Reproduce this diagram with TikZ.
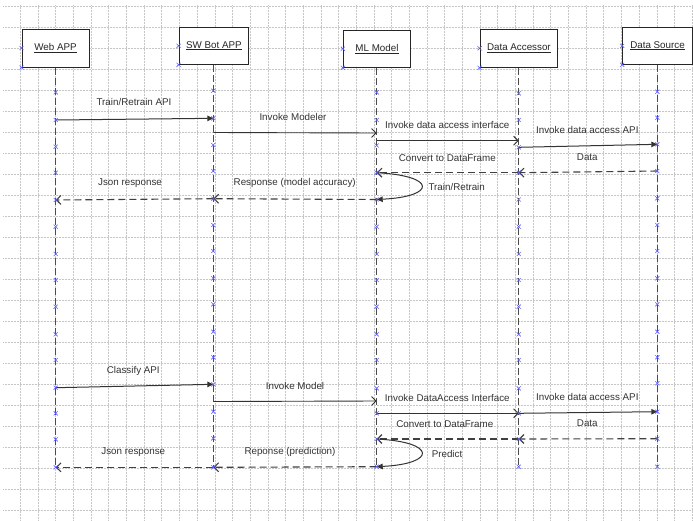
\documentclass[tikz,border=0pt]{standalone}
\usepackage{fontspec}
\setmainfont{Liberation Sans}
\usetikzlibrary{arrows.meta}
\definecolor{markblue}{RGB}{95,95,255}
\newcommand{\bluecross}[1]{\draw[mk] (#1) +(-2,-2) -- +(2,2) +(-2,2) -- +(2,-2);}
\begin{document}
\begin{tikzpicture}[x=1pt,y=-1pt,
  gridline/.style={densely dotted, draw=black!22, line width=0.5pt},
  actor/.style={draw=black!85, line width=1pt, fill=white, inner sep=0pt, font=\fontsize{9.8}{11}\selectfont, text=black!85},
  lifeline/.style={draw=black!70, line width=0.8pt, dash pattern=on 7pt off 3pt},
  call/.style={draw=black!80, line width=1pt, -{Triangle[length=6pt,width=5.5pt]}},
  callopen/.style={draw=black!80, line width=0.9pt, -{Straight Barb[length=4.5pt,width=9pt]}},
  reply/.style={draw=black!75, line width=1.1pt, dash pattern=on 7pt off 4pt, -{Straight Barb[length=4.5pt,width=9pt]}},
  selfmsg/.style={draw=black!80, line width=1pt, -{Triangle[length=6pt,width=5.5pt]}},
  lbl/.style={font=\fontsize{9.8}{11}\selectfont, text=black!80, inner sep=0pt},
  mk/.style={draw=markblue, line width=0.6pt}
]
\useasboundingbox (0,0) rectangle (693,520);
\fill[white] (0,0) rectangle (693,520);
% grid
\foreach \k in {0,...,38} {\draw[gridline] ({20.3+17.68*\k},5) -- ({20.3+17.68*\k},520);}
\foreach \k in {0,...,24} {\draw[gridline] (3,{6+21.03*\k}) -- (693,{6+21.03*\k});}

% lifeline anchor points
\foreach [count=\i] \y in {92.3,120,146.7,172.7,200,226.7,254,280,306.7,334.3,360,387.7,413.3,439.3,467.3}
  {\coordinate (w\i) at (55.7,\y);}
\foreach [count=\i] \y in {90.7,118.3,145,171,198.7,225,251,278.3,304.3,331.7,357.3,384.3,411.7,438.3,467.3}
  {\coordinate (s\i) at (213.3,\y);}
\foreach [count=\i] \y in {92.3,120,145.5,172.7,199.5,226.7,254,280,306.7,334.3,360,388.3,413.3,439,466.7}
  {\coordinate (m\i) at (376.7,\y);}
\foreach [count=\i] \y in {93.3,120,147.3,172.7,199.5,226.7,254,280,306.7,334.3,360,388.3,413.3,439,466.7}
  {\coordinate (a\i) at (518.7,\y);}
\foreach [count=\i] \y in {91.7,117.7,144.3,171,198.3,225,251,278.3,304.3,331.7,357.3,383.3,411.7,438.7,466.7}
  {\coordinate (d\i) at (657.3,\y);}
\coordinate (sIM) at (213.3,132.5);
\coordinate (mIM) at (376.7,133);
\coordinate (mIA) at (376.7,140.7);
\coordinate (aIA) at (518.7,140.7);
\coordinate (sIM2) at (213.3,401.5);
\coordinate (mIM2) at (376.7,401);

% actors
\node[actor, minimum width=67pt, minimum height=38pt] (web) at (55.5,48) {\underline{Web APP}};
\node[actor, minimum width=69.7pt, minimum height=37pt] (sw) at (213.9,45.8) {\underline{SW Bot APP}};
\node[actor, minimum width=67.4pt, minimum height=37.3pt] (ml) at (377,48.7) {\underline{ML Model}};
\node[actor, minimum width=77.7pt, minimum height=38pt] (da) at (518.9,48.3) {\underline{Data Accessor}};
\node[actor, minimum width=69.6pt, minimum height=37pt] (ds) at (657.5,45.8) {\underline{Data Source}};

% lifelines
\draw[lifeline] (web.south -| w1) -- (w15);
\draw[lifeline] (sw.south -| s1) -- (s15);
\draw[lifeline] (ml.south -| m1) -- (m15);
\draw[lifeline] (da.south -| a1) -- (a15);
\draw[lifeline] (ds.south -| d1) -- (d15);

% first scenario
\draw[call] (w2) -- (s2);
\draw[callopen] (sIM) -- (mIM);
\draw[callopen] (mIA) -- (aIA);
\draw[call] (a3) -- (d3);
\draw[reply] (d4) -- (a4);
\draw[reply] (a4) -- (m4);
\draw[selfmsg] (m4) .. controls +(60,3) and +(60,-3) .. (m5);
\draw[reply] (m5) -- (s5);
\draw[reply] (s5) -- (w5);

% second scenario
\draw[call] (w12) -- (s12);
\draw[callopen] (sIM2) -- (mIM2);
\draw[callopen] (m13) -- (a13);
\draw[call] (a13) -- (d13);
\draw[reply] (d14) -- (a14);
\draw[reply] (a14) -- (m14);
\draw[selfmsg] (m14) .. controls +(60,3) and +(60,-3) .. (m15);
\draw[reply] (m15) -- (s15);
\draw[reply] (s15) -- (w15);

% markers
\foreach \p in {w,s,m,a,d} {\foreach \i in {1,...,15} {\bluecross{\p\i}}}
\foreach \n in {web,sw,ml,da,ds} {\bluecross{\n.west} \bluecross{\n.south west}}

% labels
\node[lbl] (l1) at (134,102) {Train/Retrain API};
\node[lbl] (l2) at (293,117) {Invoke Modeler};
\node[lbl] (l3) at (447.3,125) {Invoke data access interface};
\node[lbl] (l4) at (587.3,130) {Invoke data access API};
\node[lbl] (l5) at (587.3,156.7) {Data};
\node[lbl] (l6) at (447.3,157.7) {Convert to DataFrame};
\node[lbl] (l7) at (456.7,187.3) {Train/Retrain};
\node[lbl] (l8) at (294.7,183) {Response (model accuracy)};
\node[lbl] (l9) at (130,183.3) {Json response};

\node[lbl] (k1) at (133.3,370.7) {Classify API};
\node[lbl] (k2) at (295,385.7) {Invoke Model};
\node[lbl] (k3) at (447.3,398.3) {Invoke DataAccess Interface};
\node[lbl] (k4) at (587.3,396.7) {Invoke data access API};
\node[lbl] (k5) at (587.3,423.3) {Data};
\node[lbl] (k6) at (444.8,424) {Convert to DataFrame};
\node[lbl] (k7) at (447,454) {Predict};
\node[lbl] (k8) at (290,452.3) {Reponse (prediction)};
\node[lbl] (k9) at (133.3,452.3) {Json response};
\end{tikzpicture}
\end{document}
